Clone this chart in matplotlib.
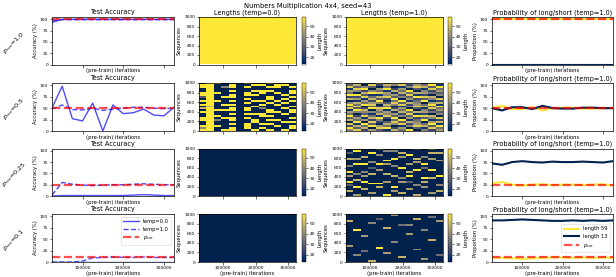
import numpy as np
import matplotlib
matplotlib.use("Agg")
import matplotlib.pyplot as plt

# ---------------- data ----------------
iterations = [25000, 50000, 75000, 100000, 125000, 150000, 175000,
              200000, 225000, 250000, 275000, 300000, 325000]
p_cor_values = [1.0, 0.5, 0.25, 0.1]

acc_temp0 = [
    [93, 100, 100, 100, 100, 100, 100, 100, 100, 100, 100, 100, 100],
    [50, 98, 27, 22, 61, 0, 57, 38, 40, 48, 35, 33, 52],
    [0, 1, 1, 1, 1, 1, 1, 1, 2, 3, 2, 1, 1],
    [1, 1, 1, 1, 1, 1, 1, 1, 1, 1, 1, 1, 1],
]
acc_temp1 = [
    [97, 99, 99, 99, 99, 99, 99, 99, 99, 99, 99, 99, 99],
    [48, 57, 47, 46, 50, 45, 48, 50, 52, 52, 50, 49, 50],
    [2, 30, 26, 24, 23, 24, 25, 25, 26, 27, 26, 25, 25],
    [0, 0, 0, 2, 9, 10, 11, 10, 10, 11, 10, 10, 10],
]
prop_len13 = [
    [0, 0, 0, 0, 0, 0, 0, 0, 0, 0, 0, 0, 0],
    [50, 45, 52, 52, 48, 55, 50, 49, 49, 51, 51, 50, 50],
    [72, 69, 75, 77, 75, 74, 76, 75, 75, 76, 75, 74, 77],
    [91, 91, 92, 93, 92, 91, 90, 90, 91, 90, 91, 90, 91],
]
prop_len59 = [
    [100, 100, 100, 100, 100, 100, 100, 100, 100, 100, 100, 100, 100],
    [50, 55, 48, 48, 52, 45, 50, 51, 51, 49, 49, 50, 50],
    [28, 31, 25, 23, 25, 26, 24, 25, 25, 24, 25, 26, 23],
    [9, 9, 8, 7, 8, 9, 10, 10, 9, 10, 9, 10, 9],
]

len_short, len_long = 13, 59
n_sequences = 1000
# heatmap columns (one string per checkpoint, bottom->top, 40 sequences per char,
# digit 0 = length 13 ... 9 = length 59)
heat_t0_p050 = [
    "9590099009070909039900990", "9999999999997999999999999",
    "0090050900900009000900009", "9000009000900900090000500",
    "9909099090990909099090990", "0000000000000000000000000",
    "0999009090990090909900909", "9000990090009009009090090",
    "0909000990050909000990090", "9009090909900090990090909",
    "0090090009000909000900990", "9000900090090090909000090",
    "0990909009909009090990900",
]
heat_t1_p050 = [
    "5928073946183950729461835", "8371946205938471629058374",
    "2749061835720946183729504", "6093827415093862741950382",
    "3860259174682059371846029", "1947302856194730285619473",
    "7205849361720584936172058", "4618390527461839052746183",
    "9052716384905271638490527", "0386542917038654291703865",
    "5174093826517409382651740", "2839615704283961570428396",
    "6491728053649172805364917",
]
heat_t1_p025 = [
    "0070030900609005000700300", "6000900070050000900600090",
    "0007000900605000900070000", "0600009000070030050000900",
    "0000709000000600900005007", "9000000600070000609000050",
    "0060900000700005000900050", "0700000605000090000060700",
    "0006000300907000600009000", "7000050000000900060700006",
    "0000600709000040900050000", "0600000007000900000600709",
    "0070050000900000006000700",
]
heat_t1_p010 = [
    "0000000060000000000007000", "0005000000000000900000000",
    "0000040000000600000000000", "7000000000000000000050000",
    "0000000900000000000000300", "0000600000000000070000000",
    "0000000000500000000000006", "0070000000000000000400000",
    "0000000000000060000500000", "0000005000000000000000700",
    "0600000000000000500000000", "0000000000070000000000040",
    "0004000000000000000006000",
]

# ---------------- layout helpers ----------------
W, H = 616, 277
fig = plt.figure(figsize=(W / 100, H / 100), dpi=100)
plt.rcParams["font.family"] = ["DejaVu Sans"]


def box(l, r, t, b):
    return [l / W, 1 - b / H, (r - l) / W, (b - t) / H]


cols_px = {"acc": (52, 174), "h0": (199, 296), "cb0": (302, 306),
           "h1": (346, 443), "cb1": (448, 452), "prop": (492, 613)}
rows_px = [(17, 64.5), (83, 131), (148.5, 196), (214, 262)]

TITLE_FS = 4.7
LABEL_FS = 3.8
TICK_FS = 3.2
SPINE_W = 0.5
BLUE = (0.0, 0.0, 1.0, 0.7)
RED = (1.0, 0.0, 0.0, 0.7)
C_LONG = plt.get_cmap("cividis")(1.0)
C_SHORT = plt.get_cmap("cividis")(0.0)


def style(ax, bottom_labels):
    for s in ax.spines.values():
        s.set_linewidth(SPINE_W)
    ax.tick_params(labelsize=TICK_FS, length=1.8, width=0.4, pad=1)
    ax.set_xticks([100000, 200000, 300000])
    if not bottom_labels:
        ax.tick_params(labelbottom=False)


def make_img(col_strings, const=None):
    if const is not None:
        return np.full((25, len(iterations)), float(const))
    arr = np.array([[len_short + int(ch) / 9 * (len_long - len_short) for ch in c]
                    for c in col_strings])
    return arr.T


heat_t0 = [None, heat_t0_p050, None, None]
heat_t0_const = [len_long, None, len_short, len_short]
heat_t1 = [None, heat_t1_p050, heat_t1_p025, heat_t1_p010]
heat_t1_const = [len_long, None, None, None]

for i, (t, b) in enumerate(rows_px):
    last = i == len(rows_px) - 1
    # ---- accuracy ----
    ax = fig.add_axes(box(*cols_px["acc"], t, b))
    ax.plot(iterations, acc_temp0[i], color=BLUE, lw=1.0, label="temp=0.0")
    ax.plot(iterations, acc_temp1[i], color=BLUE, lw=1.0, ls="--", label="temp=1.0")
    ax.plot(iterations, [p_cor_values[i] * 100] * len(iterations), color=RED,
            lw=1.6, ls="--", label="$p_{cor}$")
    ax.set_xlim(iterations[0], iterations[-1])
    ax.set_ylim(0, 105)
    ax.set_yticks([0, 25, 50, 75, 100])
    ax.set_title("Test Accuracy", fontsize=TITLE_FS, pad=2)
    ax.set_ylabel("Accuracy (%)", fontsize=LABEL_FS, labelpad=1.5)
    ax.set_xlabel("(pre-train) iterations", fontsize=LABEL_FS, labelpad=1)
    style(ax, last)
    if last:
        ax.legend(loc="upper right", fontsize=3.7, handlelength=3.0,
                  borderpad=0.5, labelspacing=0.5, framealpha=0.8,
                  edgecolor="0.8").get_frame().set_linewidth(0.4)
    fig.text(14 / W, 1 - ((t + b) / 2 + 2) / H,
             "$p_{cor}$=%s" % ("%g" % p_cor_values[i] if p_cor_values[i] != 1.0 else "1.0"),
             rotation=45, ha="center", va="center", fontsize=4.6)

    # ---- heatmaps ----
    for key, cbkey, datas, consts, temp in (("h0", "cb0", heat_t0, heat_t0_const, "0.0"),
                                            ("h1", "cb1", heat_t1, heat_t1_const, "1.0")):
        hx = fig.add_axes(box(*cols_px[key], t, b))
        img = make_img(datas[i], consts[i])
        im = hx.imshow(img, aspect="auto", origin="lower", cmap="cividis",
                       vmin=len_short, vmax=len_long, interpolation="nearest",
                       extent=[iterations[0], iterations[-1], 0, n_sequences])
        hx.set_yticks([0, 200, 400, 600, 800, 1000])
        hx.set_ylabel("Sequences", fontsize=LABEL_FS, labelpad=1.5)
        if i == 0:
            hx.set_title("Lengths (temp=%s)" % temp, fontsize=TITLE_FS, pad=2)
        if last:
            hx.set_xlabel("(pre-train) iterations", fontsize=LABEL_FS, labelpad=1)
        style(hx, last)
        cax = fig.add_axes(box(*cols_px[cbkey], t, b))
        cb = fig.colorbar(im, cax=cax)
        cb.set_ticks([20, 30, 40, 50])
        cb.ax.tick_params(labelsize=TICK_FS, length=1.5, width=0.4, pad=1)
        cb.outline.set_linewidth(0.3)
        cb.set_label("Length", fontsize=LABEL_FS, labelpad=1.5)

    # ---- proportions ----
    px = fig.add_axes(box(*cols_px["prop"], t, b))
    px.plot(iterations, prop_len59[i], color=C_LONG, lw=1.5, label="length 59")
    px.plot(iterations, prop_len13[i], color=C_SHORT, lw=1.5, label="length 13")
    px.plot(iterations, [p_cor_values[i] * 100] * len(iterations), color=RED,
            lw=1.6, ls="--", label="$p_{cor}$")
    px.set_xlim(iterations[0], iterations[-1])
    px.set_ylim(0, 105)
    px.set_yticks([0, 25, 50, 75, 100])
    px.set_title("Probability of long/short (temp=1.0)", fontsize=TITLE_FS, pad=2)
    px.set_ylabel("Proportion (%)", fontsize=LABEL_FS, labelpad=1.5)
    px.set_xlabel("(pre-train) iterations", fontsize=LABEL_FS, labelpad=1)
    style(px, last)
    if last:
        px.legend(loc="center right", fontsize=3.7, handlelength=3.0,
                  borderpad=0.5, labelspacing=0.5, framealpha=0.8,
                  edgecolor="0.8").get_frame().set_linewidth(0.4)

fig.suptitle("Numbers Multiplication 4x4, seed=43", fontsize=4.9, y=1 - 6 / H, va="center")
fig.savefig("out.png", dpi=100)
